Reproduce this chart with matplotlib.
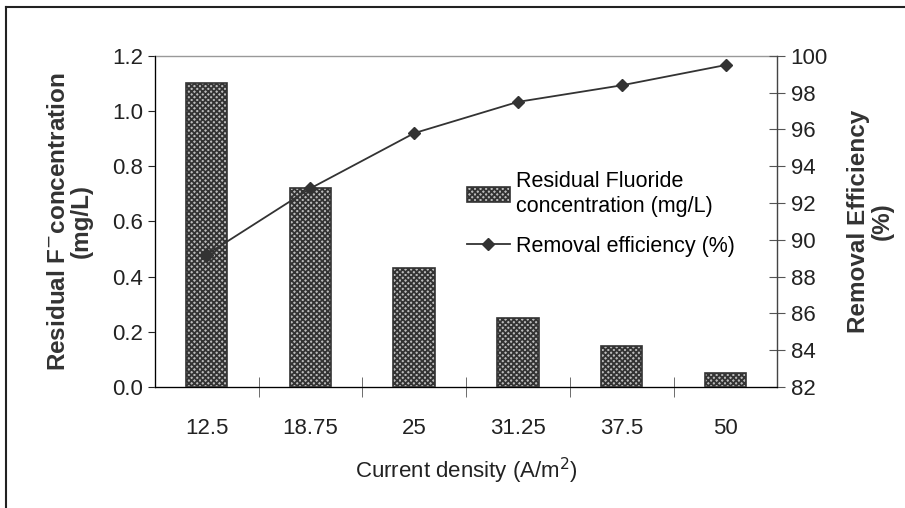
import matplotlib.pyplot as plt
from matplotlib.lines import Line2D

plt.rcParams['font.family'] = ['Liberation Sans', 'DejaVu Sans']
plt.rcParams['hatch.linewidth'] = 1.3

# values
densities = ['12.5', '18.75', '25', '31.25', '37.5', '50']
residual_f = [1.10, 0.72, 0.43, 0.25, 0.15, 0.05]      # mg/L
removal_eff = [89.2, 92.8, 95.8, 97.5, 98.4, 99.5]     # %

fig = plt.figure(figsize=(9.05, 5.08), dpi=100)
ax = fig.add_axes([0.171, 0.238, 0.688, 0.652])

x = list(range(len(densities)))
ax.bar(x, residual_f, width=0.4, color='#bbbbbb', edgecolor='#333333',
       hatch='xxxxxx', linewidth=1.2, label='Residual Fluoride\nconcentration (mg/L)',
       zorder=2)
ax.set_xlim(-0.5, len(densities) - 0.5)
ax.set_ylim(0, 1.2)
ax.set_yticks([0.0, 0.2, 0.4, 0.6, 0.8, 1.0, 1.2])
ax.set_yticklabels(['%.1f' % v for v in ax.get_yticks()])
ax.set_xticks(x)
ax.set_xticklabels(densities)
ax.tick_params(axis='x', length=0, pad=22, labelsize=16, colors='#222222')
ax.tick_params(axis='y', length=5, direction='out', labelsize=16, colors='#222222')
# crossing ticks between categories
ax.set_xticks([i + 0.5 for i in x[:-1]], minor=True)
ax.tick_params(axis='x', which='minor', length=14, direction='inout', color='#555555')

for s in ['left', 'right', 'top', 'bottom']:
    ax.spines[s].set_color('#666666')
    ax.spines[s].set_linewidth(1.0)
ax.spines['top'].set_color('#999999')

ax.set_ylabel('Residual F$^{\\mathsf{-}}$concentration\n(mg/L)', fontsize=17.5,
              fontweight='bold', color='#333333', labelpad=14, linespacing=1.0)
ax.set_xlabel('Current density (A/m$^2$)', fontsize=16, color='#222222', labelpad=12)

ax2 = ax.twinx()
ax2.plot(x, removal_eff, color='#333333', linewidth=1.3, marker='D', markersize=6,
         label='Removal efficiency (%)', zorder=3)
ax2.set_ylim(82, 100)
ax2.set_yticks(range(82, 101, 2))
ax2.tick_params(axis='y', length=12, direction='inout', color='#555555',
                labelsize=16, colors='#222222')
ax2.spines['right'].set_color('#444444')
ax2.spines['top'].set_visible(False)
ax2.set_ylabel('Removal Efficiency\n(%)', fontsize=17.5, fontweight='bold',
               color='#333333', rotation=90, labelpad=14, linespacing=1.0)

h1, l1 = ax.get_legend_handles_labels()
h2, l2 = ax2.get_legend_handles_labels()
ax2.legend(h1 + h2, l1 + l2, loc='upper left', bbox_to_anchor=(0.47, 0.71),
           frameon=False, fontsize=15.5, handlelength=2.0, handletextpad=0.3,
           labelspacing=0.9)

# outer frame (left and top edges visible in the reference)
fig.add_artist(Line2D([0.007, 0.007], [0.0, 0.986], color='#222222', linewidth=1.5))
fig.add_artist(Line2D([0.007, 1.0], [0.986, 0.986], color='#222222', linewidth=1.5))

fig.savefig('out.png', dpi=100)
